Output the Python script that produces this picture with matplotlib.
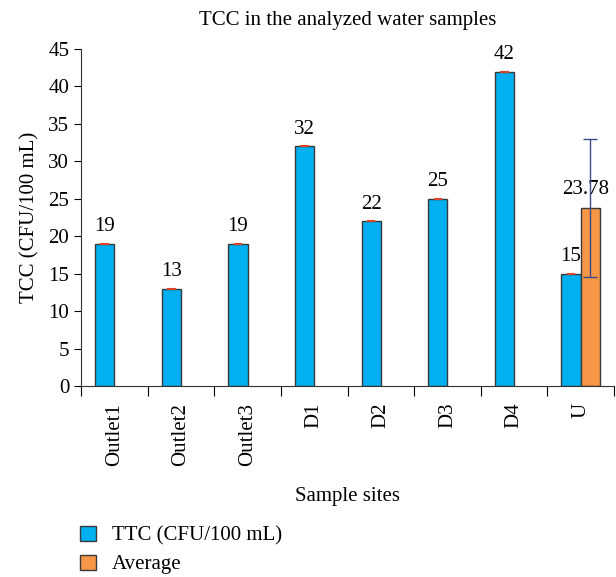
import matplotlib
matplotlib.use("Agg")
import matplotlib.pyplot as plt
import numpy as np

plt.rcParams['font.family'] = ['Liberation Serif', 'DejaVu Serif']

# data
sites = ['Outlet1', 'Outlet2', 'Outlet3', 'D1', 'D2', 'D3', 'D4', 'U']
ttc = [19, 13, 19, 32, 22, 25, 42, 15]
average = [0, 0, 0, 0, 0, 0, 0, 23.78]
avg_err = [0, 0, 0, 0, 0, 0, 0, 9.2]

blue = '#00B0F0'
orange = '#F79646'
edge = '#3a3a3a'
fs = 15

fig = plt.figure(figsize=(6.16, 5.77), dpi=100)
ax = fig.add_axes([0.1315, 0.331, 0.8653, 0.584])

x = np.arange(len(sites))
w = 0.29
ax.bar(x - w/2, ttc, w, color=blue, edgecolor=edge, linewidth=1.0, label='TTC (CFU/100 mL)', zorder=2)
# small red caps on top of the blue bars
ax.hlines(ttc, x - w/2 - w*0.22, x - w/2 + w*0.22, color='#d9442b', linewidth=1.5, zorder=3)

u = len(sites) - 1
ax.bar(x[u:] + w/2, average[u:], w, color=orange, edgecolor=edge, linewidth=1.0, label='Average', zorder=2)
ax.errorbar(x[u] + w/2, average[u], yerr=avg_err[u], fmt='none', ecolor='#3b4a8a',
            elinewidth=1.0, capsize=5, capthick=1.0, zorder=4)

for xi, v in zip(x, ttc):
    ax.text(xi - w/2, v + 1.0, str(v), ha='center', va='bottom', fontsize=fs)
ax.text(x[u] + w/2 - 0.07, average[u] + 1.2, '23.78', ha='center', va='bottom', fontsize=fs)

ax.set_xlim(-0.5, len(sites) - 0.5)
ax.set_ylim(0, 45)
ax.set_yticks(range(0, 46, 5))
ax.tick_params(axis='y', direction='out', length=5, width=0.8, labelsize=fs)

# category ticks at boundaries
ax.set_xticks(np.arange(-0.5, len(sites), 1.0))
ax.set_xticklabels([])
ax.tick_params(axis='x', which='major', direction='out', length=7, width=0.8)
ax.set_xticks(x, minor=True)
ax.set_xticklabels(sites, minor=True, rotation=90, fontsize=fs)
ax.tick_params(axis='x', which='minor', length=0, pad=12)

for s in ['top', 'right']:
    ax.spines[s].set_visible(False)
ax.spines['left'].set_color('#333333')
ax.spines['bottom'].set_color('#333333')

ax.set_title('TCC in the analyzed water samples', fontsize=fs, pad=17)
ax.set_ylabel('TCC (CFU/100 mL)', fontsize=fs, labelpad=6)
ax.set_xlabel('Sample sites', fontsize=fs, labelpad=15)

fig.legend(loc='lower left', bbox_to_anchor=(0.10, -0.028), frameon=False, fontsize=fs,
           handlelength=0.75, handleheight=0.75, handletextpad=0.75, labelspacing=0.42)

plt.savefig('out.png', dpi=100)
